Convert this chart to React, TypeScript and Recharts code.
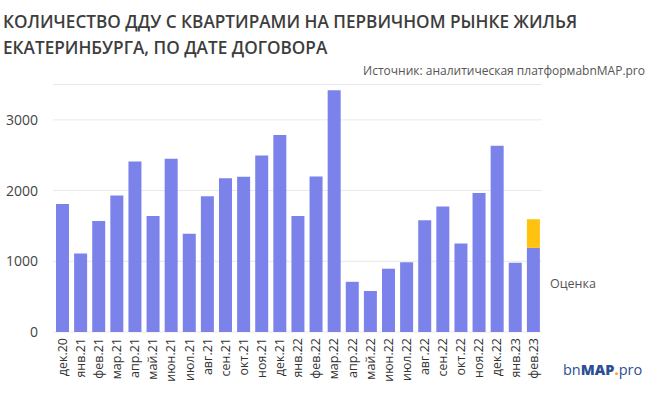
import React from 'react';
import { BarChart, Bar, XAxis, YAxis, CartesianGrid } from 'recharts';

const months = ['дек.20','янв.21','фев.21','мар.21','апр.21','май.21','июн.21','июл.21','авг.21','сен.21','окт.21','ноя.21','дек.21','янв.22','фев.22','мар.22','апр.22','май.22','июн.22','июл.22','авг.22','сен.22','окт.22','ноя.22','дек.22','янв.23','фев.23'];
const contracts = [1810,1110,1570,1930,2410,1640,2450,1390,1920,2175,2195,2495,2785,1640,2200,3420,710,580,895,985,1580,1775,1250,1965,2635,980,1190];
const estimate = [0,0,0,0,0,0,0,0,0,0,0,0,0,0,0,0,0,0,0,0,0,0,0,0,0,0,405];
const yTicks = [0, 1000, 2000, 3000];

const titleLines = ['КОЛИЧЕСТВО ДДУ С КВАРТИРАМИ НА ПЕРВИЧНОМ РЫНКЕ ЖИЛЬЯ', 'ЕКАТЕРИНБУРГА, ПО ДАТЕ ДОГОВОРА'];
const sourceText = 'Источник: аналитическая платформаbnMAP.pro';
const estimateLabel = 'Оценка';

const data = months.map((m, i) => ({ month: m, contracts: contracts[i], estimate: estimate[i] }));

const FONT = '"Open Sans", "Noto Sans", sans-serif';

const XTick = (props: any) => {
  const { x, y, payload } = props;
  return (
    <g transform={`translate(${x},${y})`}>
      <text transform="rotate(-90)" x={-6} y={0} dy="0.38em" textAnchor="end" fontSize={12.5} fill="#333" fontFamily={FONT}>
        {payload.value}
      </text>
    </g>
  );
};

export default function App() {
  return (
    <div style={{ position: 'absolute', left: 0, top: 0, width: 650, height: 394, background: '#fff' }}>
      <BarChart width={650} height={394} data={data} margin={{ top: 84.5, right: 108, left: 0, bottom: 0 }} barSize={13}>
        <CartesianGrid vertical={false} stroke="#e9e9e9" />
        <XAxis dataKey="month" interval={0} height={62} axisLine={false} tickLine={false} tickSize={0} tickMargin={0} tick={<XTick />} />
        <YAxis domain={[0, 3500]} ticks={yTicks} width={53} axisLine={false} tickLine={false} tickSize={0} tickMargin={15}
          tick={{ fontSize: 14, fill: '#444', fontFamily: FONT }} />
        <Bar dataKey="contracts" stackId="a" fill="#7B83EB" isAnimationActive={false} />
        <Bar dataKey="estimate" stackId="a" fill="#FFC20E" isAnimationActive={false} />
      </BarChart>
      <svg width={650} height={394} style={{ position: 'absolute', left: 0, top: 0, pointerEvents: 'none' }} fontFamily={FONT}>
        <text x={3} y={28} fontSize={17.2} fontWeight={600} fill="#3d3d3d">{titleLines[0]}</text>
        <text x={3} y={54} fontSize={17.2} fontWeight={600} fill="#3d3d3d">{titleLines[1]}</text>
        <text x={645} y={75} fontSize={12} fill="#555" textAnchor="end">{sourceText}</text>
        <text x={550} y={288} fontSize={12.5} fill="#555">{estimateLabel}</text>
        <text x={563} y={375} fontSize={14.5} fill="#2c4f93">
          <tspan fontWeight={400}>bn</tspan><tspan fontWeight={800}>MAP</tspan><tspan fontWeight={800} fill="#f5a623">.</tspan><tspan fontWeight={400}>pro</tspan>
        </text>
      </svg>
    </div>
  );
}
